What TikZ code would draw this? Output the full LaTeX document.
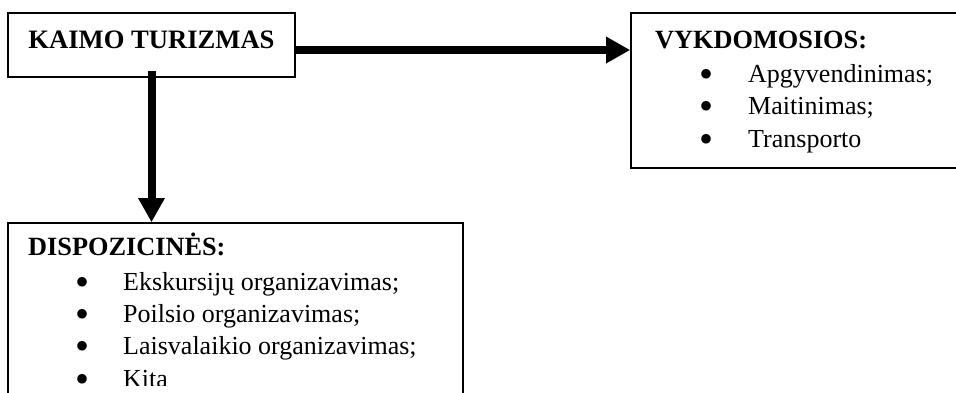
\documentclass[tikz,border=0pt]{standalone}
\usepackage{fontspec}
\setmainfont{Liberation Serif}
\usetikzlibrary{arrows.meta}
\begin{document}
\begin{tikzpicture}[x=1pt,y=1pt,
  box/.style={draw=black,line width=1.6pt,rectangle,inner sep=0pt},
  txt/.style={anchor=base west,inner sep=0pt,font=\fontsize{26}{32}\selectfont},
  hdr/.style={anchor=base west,inner sep=0pt,font=\fontsize{26.3}{32}\selectfont\bfseries},
  bul/.style={anchor=base,inner sep=0pt,yshift=-5pt,font=\fontsize{40}{40}\selectfont},
  link/.style={line width=8pt,-{Triangle[length=24pt,width=25pt]}}]
\useasboundingbox (0,0) rectangle (956,-392);
\clip (0,0) rectangle (956,-392);
\fill[white] (0,0) rectangle (956,-392);
% boxes
\node[box,minimum width=287pt,minimum height=64pt] (kaimo) at (151.5,-45) {};
\node[box,minimum width=340pt,minimum height=155pt] (vyk) at (801,-90.5) {};
\node[box,minimum width=455pt,minimum height=200pt] (disp) at (235.5,-323) {};
% texts
\node[anchor=base,inner sep=0pt,font=\fontsize{26.6}{32}\selectfont\bfseries] (kt) at (151.5,-48) {KAIMO TURIZMAS};
\node[hdr] (vh) at (655,-48) {VYKDOMOSIOS:};
\node[bul] (vb1) at (706,-82) {•};
\node[bul] (vb2) at (706,-114.5) {•};
\node[bul] (vb3) at (706,-147) {•};
\node[txt] (v1) at (748,-82) {Apgyvendinimas;};
\node[txt] (v2) at (748,-114.5) {Maitinimas;};
\node[txt] (v3) at (748,-147) {Transporto};
\node[hdr] (dh) at (28,-255) {DISPOZICINĖS:};
\begin{scope}
\clip (0,-200) rectangle (956,-385);
\node[bul] (db1) at (83,-290) {•};
\node[bul] (db2) at (83,-322) {•};
\node[bul] (db3) at (83,-354.5) {•};
\node[bul] (db4) at (83,-387) {•};
\node[txt] (d1) at (123,-290) {Ekskursijų organizavimas;};
\node[txt] (d2) at (123,-322) {Poilsio organizavimas;};
\node[txt] (d3) at (123,-354.5) {Laisvalaikio organizavimas;};
\node[txt] (d4) at (123,-387) {Kita};
\end{scope}
% connectors
\draw[link] ([yshift=-5pt]kaimo.east) -- ([yshift=-5pt]kaimo.east -| vyk.west);
\draw[link] ([yshift=7pt]kaimo.south) -- (kaimo.south |- disp.north);
\end{tikzpicture}
\end{document}
